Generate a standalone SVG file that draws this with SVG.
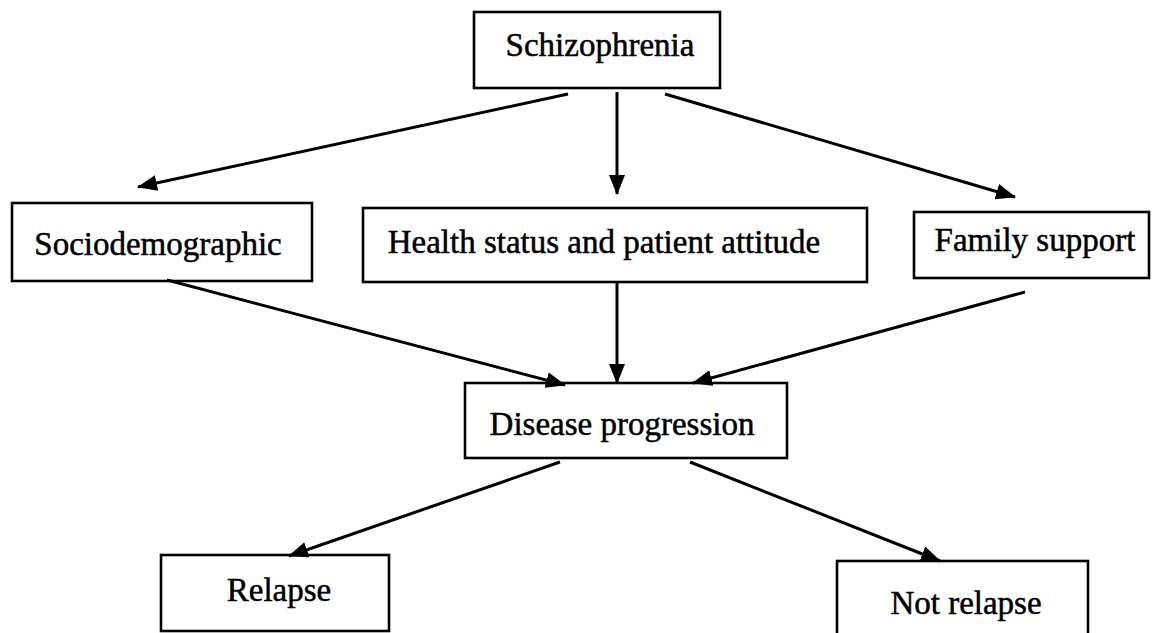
<svg xmlns="http://www.w3.org/2000/svg" width="1163" height="633" viewBox="0 0 1163 633">
<style>
.box{fill:#fff;stroke:#000;stroke-width:2.6}
.lbl{font-family:"Liberation Serif","Times New Roman",serif;font-size:33px;fill:#000;stroke:#000;stroke-width:0.5;text-anchor:middle}
.edge{stroke:#000;stroke-width:3;fill:none;marker-end:url(#ah)}
</style>
<defs>
<marker id="ah" markerUnits="userSpaceOnUse" markerWidth="20" markerHeight="16" refX="19" refY="8" orient="auto">
<path d="M0,0 L20,8 L0,16 Z" fill="#000"/>
</marker>
</defs>
<rect width="1163" height="633" fill="#fff"/>
<g id="n-schizophrenia"><rect class="box" x="474" y="12" width="246" height="76"/><text class="lbl" x="600" y="56">Schizophrenia</text></g>
<g id="n-sociodemographic"><rect class="box" x="12" y="203" width="300" height="78"/><text class="lbl" x="158" y="255">Sociodemographic</text></g>
<g id="n-health"><rect class="box" x="363" y="208" width="504" height="74"/><text class="lbl" x="604" y="253">Health status and patient attitude</text></g>
<g id="n-family"><rect class="box" x="914" y="212" width="235" height="66"/><text class="lbl" x="1035" y="251">Family support</text></g>
<g id="n-disease"><rect class="box" x="465" y="383" width="322" height="75"/><text class="lbl" x="622" y="435">Disease progression</text></g>
<g id="n-relapse"><rect class="box" x="161" y="555" width="228" height="76"/><text class="lbl" x="279" y="601">Relapse</text></g>
<g id="n-notrelapse"><rect class="box" x="837" y="561" width="251" height="80"/><text class="lbl" x="966" y="614">Not relapse</text></g>
<g id="connectors">
<line class="edge" x1="568" y1="94" x2="138" y2="187"/>
<line class="edge" x1="617" y1="92" x2="617" y2="194"/>
<line class="edge" x1="665" y1="94" x2="1015" y2="197"/>
<line class="edge" x1="167" y1="280" x2="565" y2="385"/>
<line class="edge" x1="617" y1="282" x2="617" y2="383"/>
<line class="edge" x1="1025" y1="292" x2="693" y2="383"/>
<line class="edge" x1="560" y1="462" x2="289" y2="556"/>
<line class="edge" x1="690" y1="462" x2="940" y2="561"/>
</g>
</svg>
